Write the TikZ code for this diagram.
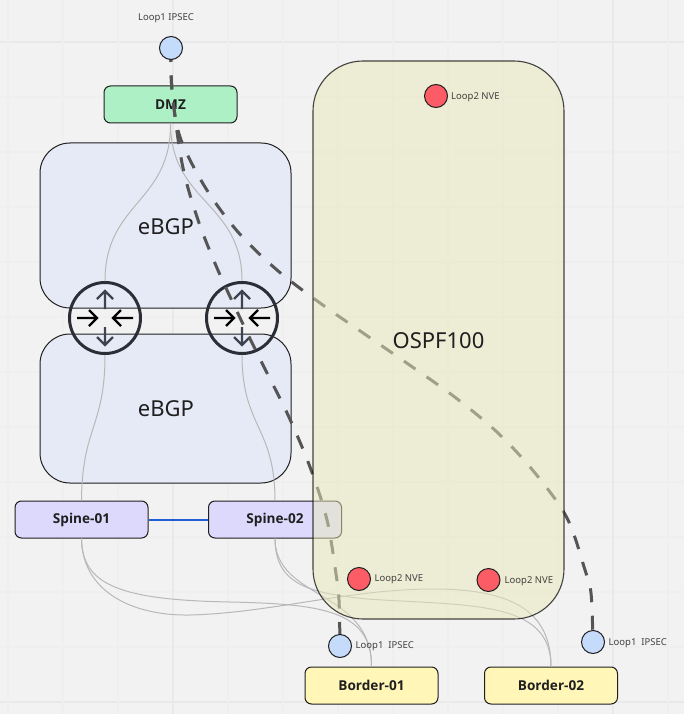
\documentclass[tikz,border=0pt]{standalone}
\usepackage{fontspec}
\setmainfont{Noto Sans}
\newfontfamily\labelbold{Open Sans}
\usetikzlibrary{calc}
\pgfdeclarelayer{gridlayer}
\pgfdeclarelayer{lowlayer}
\pgfdeclarelayer{edgelayer}
\pgfdeclarelayer{dashlayer}
\pgfdeclarelayer{ospflayer}
\pgfsetlayers{gridlayer,lowlayer,edgelayer,dashlayer,ospflayer,main}
\definecolor{bgc}{HTML}{F2F2F2}
\definecolor{gridc}{HTML}{EFEFEF}
\definecolor{gridw}{HTML}{E9E9E9}
\definecolor{bgpc}{HTML}{E6EAF6}
\definecolor{dmzc}{HTML}{AEF0C6}
\definecolor{spinec}{HTML}{DDD9FD}
\definecolor{borderc}{HTML}{FFF6B8}
\definecolor{loopa}{HTML}{C5DBFB}
\definecolor{loopb}{HTML}{FC5C65}
\definecolor{ospfc}{HTML}{E9E9BB}
\definecolor{edgec}{HTML}{B8B8B8}
\definecolor{dashc}{HTML}{555555}
\definecolor{linkblue}{RGB}{30,95,215}
\definecolor{slatec}{HTML}{3D4350}
\definecolor{inkc}{HTML}{1F1F1F}
\definecolor{ringc}{HTML}{2B2E36}
\tikzset{
  devbox/.style={draw=inkc,line width=1pt,rounded corners=6.5pt,minimum width=133pt,minimum height=37pt,inner sep=0pt,font=\labelbold\bfseries\fontsize{13.6}{15}\selectfont,text=inkc},
  bgpbox/.style={draw=inkc,line width=1pt,fill=bgpc,rounded corners=30pt,minimum width=251pt,inner sep=0pt},
  bigtext/.style={font=\fontsize{22}{26}\selectfont,text=inkc,inner sep=0pt},
  ospfbox/.style={fill=ospfc,fill opacity=.51,draw=black,draw opacity=.72,line width=1.1pt,rounded corners=50pt,minimum width=251pt,minimum height=558pt,inner sep=0pt},
  loopdot/.style={circle,draw=inkc,line width=1pt,minimum size=23pt,inner sep=0pt},
  looplabel/.style={font=\fontsize{9.5}{11}\selectfont,text=inkc!85!white,inner sep=0pt},
  routerring/.style={circle,draw=ringc,line width=3pt,minimum size=71pt,inner sep=0pt},
  thinedge/.style={draw=edgec,line width=1pt},
  linkedge/.style={draw=linkblue,line width=2pt},
  dashedge/.style={draw=dashc,line width=3pt,dash pattern=on 14pt off 13.5pt},
  gridthin/.style={draw=gridc,line width=1.3pt},
  gridwide/.style={draw=gridw,line width=2pt},
  routericon/.pic={
    \draw[slatec,line width=2.4pt] (0,-9) -- (0,-27) (-8,-19) -- (0,-27) -- (8,-19);
    \draw[slatec,line width=2.4pt] (0,9) -- (0,27) (-8,19) -- (0,27) -- (8,19);
    \draw[black,line width=2.4pt] (-28,0) -- (-8,0) (-16,-8) -- (-8,0) -- (-16,8);
    \draw[black,line width=2.4pt] (28,0) -- (8,0) (16,-8) -- (8,0) -- (16,8);
  }
}
\begin{document}
\begin{tikzpicture}[x=1pt,y=-1pt]
\useasboundingbox (0,0) rectangle (684,714);
\begin{pgfonlayer}{gridlayer}
  \fill[bgc] (0,0) rectangle (684,714);
  \foreach \yy in {97,152,207,262,317,372,427,482,537,592,647}
    \draw[gridthin] (0,\yy) -- (684,\yy);
  \foreach \yy in {42,702}
    \draw[gridwide] (0,\yy) -- (684,\yy);
  \foreach \xx in {8,63,118,228,283,338,393,448,503,558,668}
    \draw[gridthin] (\xx,0) -- (\xx,714);
  \foreach \xx in {173,613}
    \draw[gridwide] (\xx,0) -- (\xx,714);
\end{pgfonlayer}

\begin{pgfonlayer}{lowlayer}
  \node[bgpbox,minimum height=165pt] (bgpa) at (165.5,225.5) {};
  \node[bgpbox,minimum height=149pt] (bgpb) at (165.5,408.5) {};
  \node[bigtext] (bgpatext) at (166,227) {eBGP};
  \node[bigtext] (bgpbtext) at (166,409) {eBGP};
  \node[devbox,fill=dmzc] (dmz) at (170.5,104.5) {DMZ};
  \node[devbox,fill=spinec] (spa) at (81.5,519.5) {Spine-01};
  \node[devbox,fill=spinec] (spb) at (275,519.5) {Spine-02};
  \node[devbox,fill=borderc] (bda) at (371.5,685.5) {Border-01};
  \node[devbox,fill=borderc] (bdb) at (551,685.5) {Border-02};
  \node[routerring] (ra) at (105,318) {};
  \node[routerring] (rb) at (242,318) {};
  \pic at (ra.center) {routericon};
  \pic at (rb.center) {routericon};
\end{pgfonlayer}

\node[loopdot,fill=loopa] (ltop) at (171,48) {};
\node[loopdot,fill=loopa] (lbda) at (340,646) {};
\node[loopdot,fill=loopa] (lbdb) at (593,642) {};
\node[loopdot,fill=loopb] (nvea) at (436,96) {};
\node[loopdot,fill=loopb] (nveb) at (359,579) {};
\node[loopdot,fill=loopb] (nvec) at (488.5,580) {};
\node[looplabel,anchor=center] (ltoptext) at (166,18) {Loop1 IPSEC};
\node[looplabel,anchor=west] (lbdatext) at (355.5,646.5) {Loop1\ \ IPSEC};
\node[looplabel,anchor=west] (lbdbtext) at (608.5,643) {Loop1\ \ IPSEC};
\node[looplabel,anchor=west] (nveatext) at (451,97) {Loop2 NVE};
\node[looplabel,anchor=west] (nvebtext) at (374.5,579.5) {Loop2 NVE};
\node[looplabel,anchor=west] (nvectext) at (504.5,581) {Loop2 NVE};

\begin{pgfonlayer}{edgelayer}
  \draw[thinedge] (dmz.south) .. controls (171,203) and (105,202) .. (ra.north);
  \draw[thinedge] (dmz.south) .. controls (171,203) and (242,202) .. (rb.north);
  \draw[thinedge] (ra.south) .. controls (105,427) and (82,427) .. (spa.north);
  \draw[thinedge] (rb.south) .. controls (242,427) and (275,427) .. (spb.north);
  \draw[linkedge] (spa.east) -- (spb.west);
  % Spine-01 to Border-01
  \draw[thinedge] (spa.south) .. controls (82,585) and (120,600) .. (230,602)
     .. controls (320,604) and (372,610) .. (bda.north);
  % Spine-01 to Border-02
  \draw[thinedge] (spa.south) .. controls (82,590) and (130,616) .. (190,615)
     .. controls (270,613) and (350,589) .. (433,589)
     .. controls (510,589) and (551,610) .. (bdb.north);
  % Spine-02 to Border-01
  \draw[thinedge] (spb.south) .. controls (275,600) and (372,590) .. (bda.north);
  % Spine-02 to Border-02
  \draw[thinedge] (spb.south) .. controls (275,585) and (310,593) .. (367,599)
     .. controls (470,606) and (551,600) .. (bdb.north);
\end{pgfonlayer}

\begin{pgfonlayer}{dashlayer}
  \draw[dashedge] plot[smooth,tension=.55] coordinates {(ltop.center) (172,90) (182,163) (197,217) (217,268) (242,322) (263,365) (288,415) (310,467) (327,520) (336,574) (339,600) (lbda.center)};
  \draw[dashedge] plot[smooth,tension=.55] coordinates {(ltop.center) (172,90) (180,137) (205,187) (238,232) (277,270) (320,303) (366,335) (411,366) (456,398) (498,433) (535,473) (567,518) (585,570) (591,593) (lbdb.center)};
\end{pgfonlayer}

\begin{pgfonlayer}{ospflayer}
  \node[ospfbox] (ospf) at (438.5,340) {};
\end{pgfonlayer}
\node[bigtext] (ospftext) at (438.5,341) {OSPF100};
\end{tikzpicture}
\end{document}
